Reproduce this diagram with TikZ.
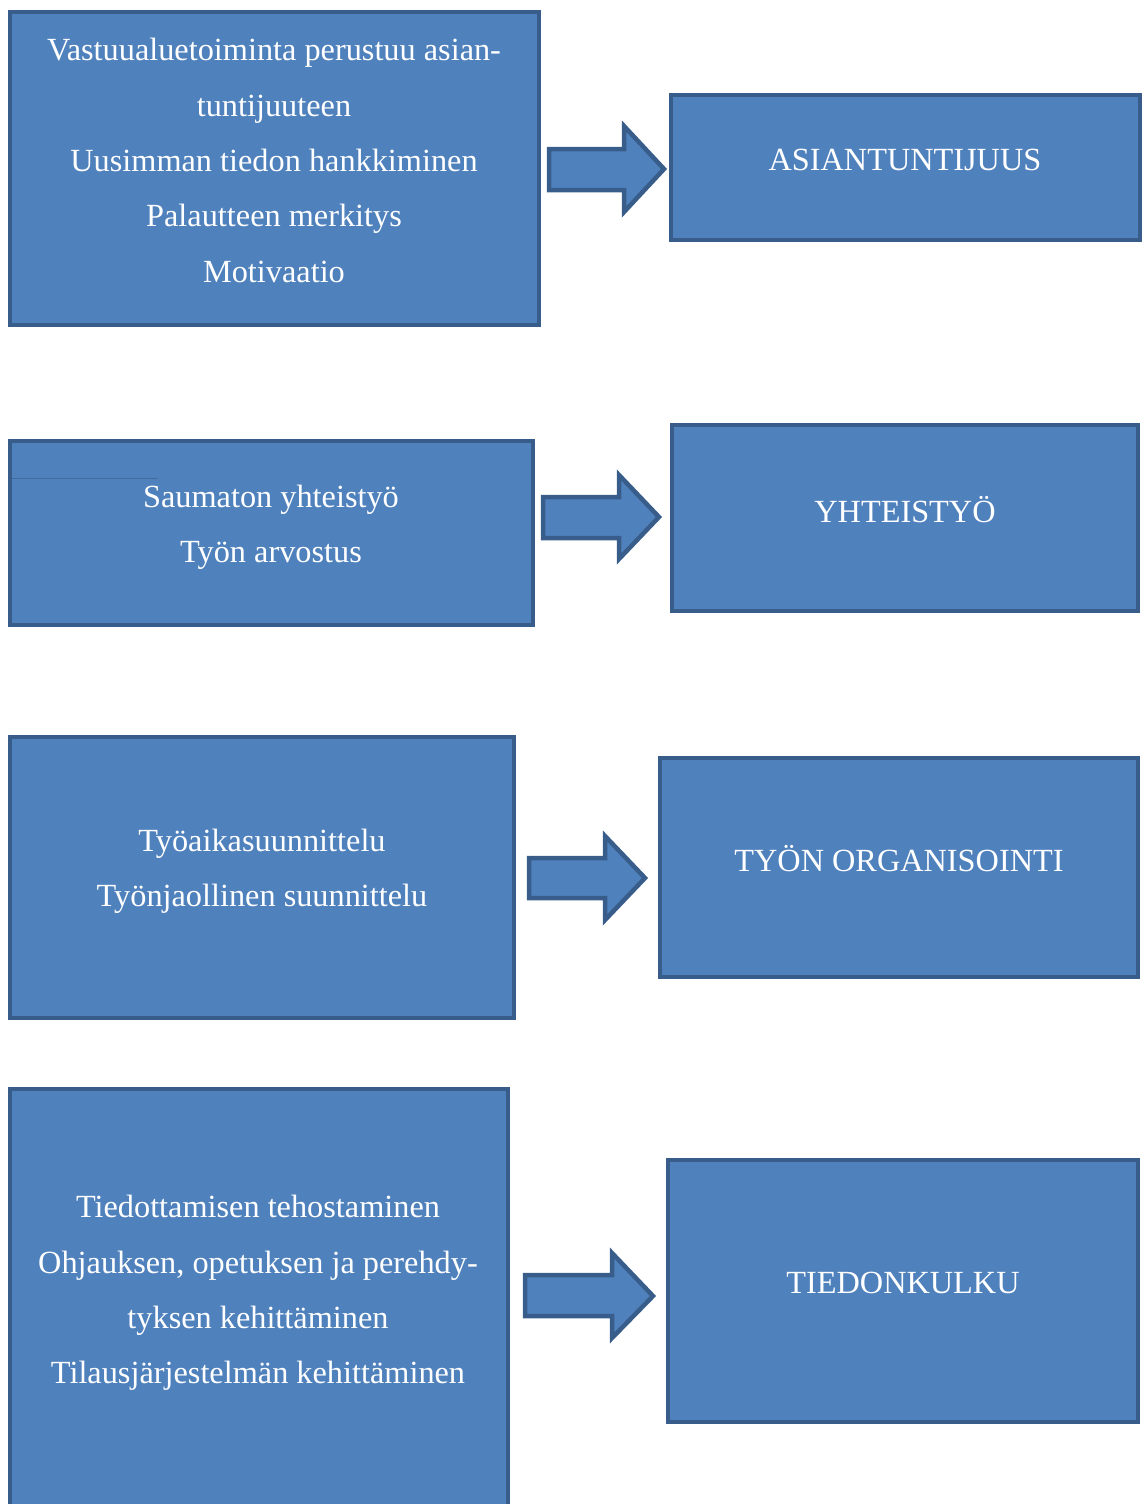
\documentclass[tikz,border=0pt]{standalone}
\usepackage{fontspec}
\setmainfont{Liberation Serif}
\definecolor{boxfill}{HTML}{4F81BD}
\definecolor{boxline}{HTML}{385D8A}
\begin{document}
\begin{tikzpicture}[x=1pt,y=-1pt,
  box/.style={draw=boxline,fill=boxfill,line width=4.5pt},
  blockarrow/.style={draw=boxline,fill=boxfill,line width=4.5pt,line join=miter},
  txt/.style={text=white,align=center,font=\fontsize{32.3}{55.3}\selectfont,inner sep=0pt}]
\useasboundingbox (0,0) rectangle (1142,1504);
\begin{scope}
\clip (0,0) rectangle (1142,1504);
% row 1
\draw[box] (10,12) rectangle (539,325);
\node[txt] (l1) at (274,160.5) {Vastuualuetoiminta perustuu asian-\\tuntijuuteen\\Uusimman tiedon hankkiminen\\Palautteen merkitys\\Motivaatio};
\draw[box] (671,95) rectangle (1140,240);
\node[txt] (r1) at (905,160) {ASIANTUNTIJUUS};
\draw[blockarrow] (549,149) -- (624,149) -- (624,126) -- (664,169) -- (624,212) -- (624,190) -- (549,190) -- cycle;
% row 2
\draw[box] (10,441) rectangle (533,625);
\draw[boxline!60!boxfill,line width=1pt] (12,478) -- (158,478);
\node[txt] (l2) at (271,527.5) {Saumaton yhteistyö\\Työn arvostus};
\draw[box] (672,425) rectangle (1138,611);
\node[txt] (r2) at (905,510) {YHTEISTYÖ};
\draw[blockarrow] (543,497) -- (619,497) -- (619,475) -- (659,517) -- (619,559) -- (619,538) -- (543,538) -- cycle;
% row 3
\draw[box] (10,737) rectangle (514,1018);
\node[txt] (l3) at (262,871.5) {Työaikasuunnittelu\\Työnjaollinen suunnittelu};
\draw[box] (660,758) rectangle (1138,977);
\node[txt] (r3) at (899,859) {TYÖN ORGANISOINTI};
\draw[blockarrow] (529,858) -- (605,858) -- (605,836) -- (645,878) -- (605,920) -- (605,898) -- (529,898) -- cycle;
% row 4
\draw[box] (10,1089) rectangle (508,1530);
\node[txt] (l4) at (258,1293) {Tiedottamisen tehostaminen\\Ohjauksen, opetuksen ja perehdy-\\tyksen kehittäminen\\Tilausjärjestelmän kehittäminen};
\draw[box] (668,1160) rectangle (1138,1422);
\node[txt] (r4) at (903,1283) {TIEDONKULKU};
\draw[blockarrow] (525,1275) -- (612,1275) -- (612,1253) -- (653,1296) -- (612,1338) -- (612,1316) -- (525,1316) -- cycle;
\end{scope}
\end{tikzpicture}
\end{document}
